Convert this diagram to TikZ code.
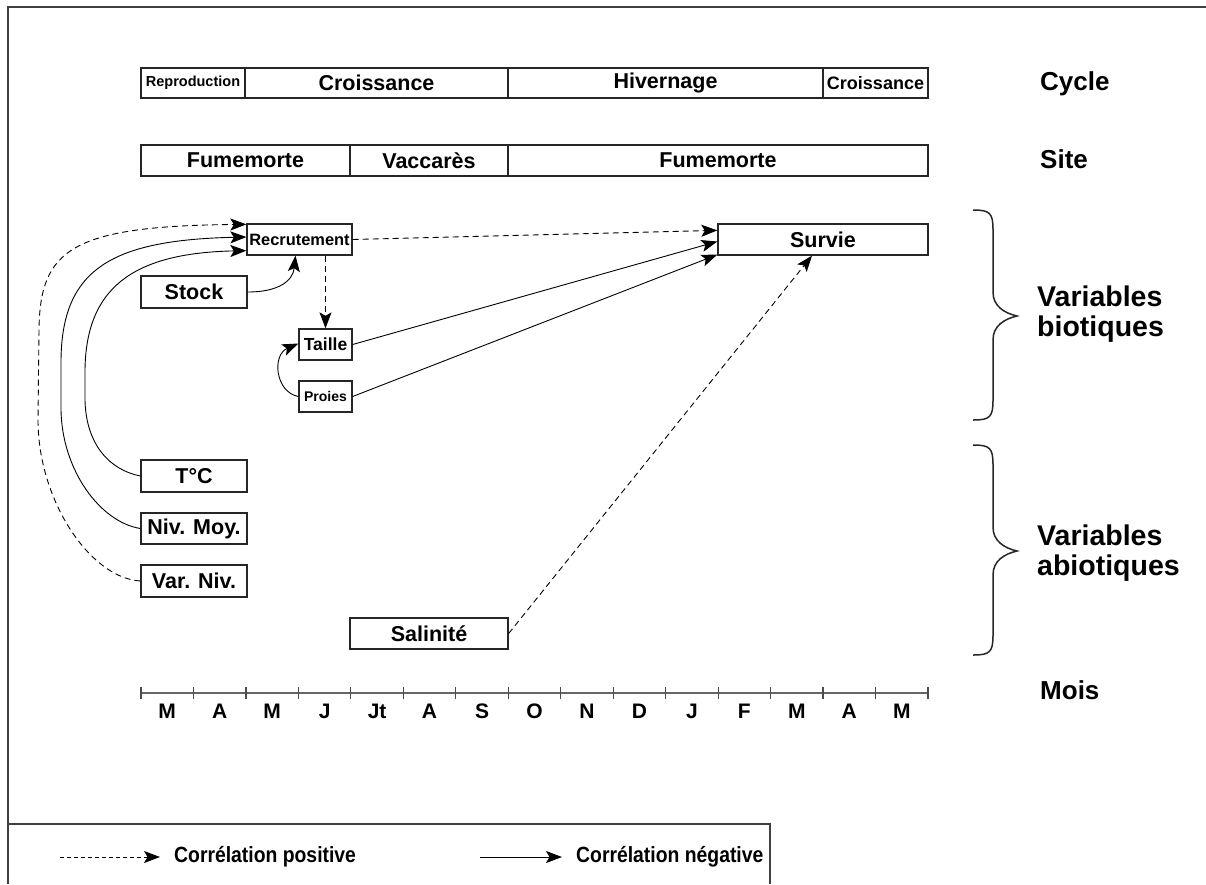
\documentclass[tikz,border=0pt]{standalone}
\usepackage{fontspec}
\setmainfont{Liberation Sans}
\newfontfamily\narrowsans[FakeStretch=0.88]{Liberation Sans}
\usetikzlibrary{arrows.meta,calc}
\begin{document}
\begin{tikzpicture}[x=1pt,y=-1pt,
  box/.style={draw=black!85,line width=1.3pt,fill=white,inner sep=0pt,
    font=\bfseries\fontsize{21.5}{24}\selectfont},
  conn/.style={line width=0.9pt,-{Stealth[length=16pt,width=12pt,inset=3.5pt]}},
  poscorr/.style={conn,dash pattern=on 6pt off 4pt},
  negcorr/.style={conn},
  lab/.style={font=\bfseries\fontsize{26}{30}\selectfont,anchor=west,inner sep=0pt},
  vlab/.style={font=\bfseries\fontsize{28.5}{32}\selectfont,anchor=west,inner sep=0pt,align=left},
  month/.style={font=\bfseries\fontsize{21}{24}\selectfont,inner sep=0pt},
  legtxt/.style={font=\narrowsans\bfseries\fontsize{22}{24}\selectfont,anchor=west,inner sep=0pt},
  frame/.style={draw=black!75,line width=2pt},
  brace/.style={draw=black!85,line width=1.5pt},
  axis/.style={draw=black!60,line width=2pt}
]
\useasboundingbox (0,0) rectangle (1206,884);
% frame
\draw[frame] (8,884) -- (8,7) -- (1206,7);
\draw[frame] (8,824) -- (770,824) -- (770,884);

% Cycle bar
\node[box,minimum width=104pt,minimum height=30pt,font=\bfseries\fontsize{14.5}{16}\selectfont] (c1) at (193,83) {Reproduction};
\node[box,minimum width=263pt,minimum height=30pt] (c2) at (376.5,83) {Croissance};
\node[box,minimum width=315pt,minimum height=30pt] (c3) at (665.5,83) {Hivernage};
\node[box,minimum width=105pt,minimum height=30pt,font=\bfseries\fontsize{18}{20}\selectfont] (c4) at (875.5,83) {Croissance};
\node[lab] (lcycle) at (1040,84) {Cycle};

% Site bar
\node[box,minimum width=209pt,minimum height=31pt] (s1) at (245.5,160.5) {Fumemorte};
\node[box,minimum width=158pt,minimum height=31pt] (s2) at (429,160.5) {Vaccarès};
\node[box,minimum width=420pt,minimum height=31pt] (s3) at (718,160.5) {Fumemorte};
\node[lab] (lsite) at (1040,159) {Site};

% variable nodes
\node[box,minimum width=105pt,minimum height=31pt,font=\bfseries\fontsize{16.4}{18}\selectfont] (recr) at (299.5,239.5) {Recrutement};
\node[box,minimum width=210pt,minimum height=31pt] (survie) at (823,239.5) {Survie};
\node[box,minimum width=106pt,minimum height=32pt] (stock) at (194,292) {Stock};
\node[box,minimum width=53pt,minimum height=31pt,font=\bfseries\fontsize{17.5}{20}\selectfont] (taille) at (325.5,344.5) {Taille};
\node[box,minimum width=53pt,minimum height=31pt,font=\bfseries\fontsize{14}{16}\selectfont] (proies) at (325.5,396.5) {Proies};
\node[box,minimum width=106pt,minimum height=32pt] (tc) at (194,476) {T°C};
\node[box,minimum width=106pt,minimum height=31pt] (nivmoy) at (194,528.5) {Niv. Moy.};
\node[box,minimum width=106pt,minimum height=32pt] (varniv) at (194,581) {Var. Niv.};
\node[box,minimum width=158pt,minimum height=31pt] (salin) at (429,633.5) {Salinité};

% connectors
\draw[poscorr] (varniv.west) .. controls (90,578) and (38,500) .. (38,420) -- (39,330)
  .. controls (40,250) and (70,226) .. ($(recr.north west)+(0,1)$);
\draw[negcorr] (nivmoy.west) .. controls (100,522) and (62,470) .. (61,410) -- (61,360)
  .. controls (62,270) and (110,240) .. ($(recr.west)+(0,-2.5)$);
\draw[negcorr] (tc.west) .. controls (110,470) and (86,445) .. (85,400) -- (85,370)
  .. controls (86,290) and (130,253) .. ($(recr.south west)+(0,-5)$);
\draw[negcorr] (stock.east) .. controls (280,292) and (293,280) .. ($(recr.south)+(-4,0)$);
\draw[poscorr] ($(recr.south)+(26,0)$) -- ($(taille.north)+(0,0)$);
\draw[negcorr] (proies.west) .. controls (275,392) and (272,355) .. ($(taille.west)+(0,-1)$);
\draw[poscorr] (recr.east) -- ($(survie.north west)+(0,7)$);
\draw[negcorr] (taille.east) -- ($(survie.west)+(0,2)$);
\draw[negcorr] (proies.east) -- ($(survie.south west)+(0,-1)$);
\draw[poscorr] (salin.east) -- ($(survie.south)+(-11,0)$);

% braces
\draw[brace] (973,210) .. controls (990,210) and (993,213) .. (993,230) -- (993,292)
  .. controls (993,306) and (1004,313) .. (1017,316)
  .. controls (1004,319) and (993,326) .. (993,340) -- (993,400)
  .. controls (993,417) and (990,420) .. (973,420);
\draw[brace] (973,445) .. controls (990,445) and (993,448) .. (993,465) -- (993,527)
  .. controls (993,541) and (1004,548) .. (1017,551)
  .. controls (1004,554) and (993,561) .. (993,575) -- (993,635)
  .. controls (993,652) and (990,655) .. (973,655);
\node[vlab] (lbio) at (1037,314) {Variables\\[-2pt]biotiques};
\node[vlab] (labio) at (1037,553) {Variables\\[-2pt]abiotiques};

% month axis
\draw[axis] (141,693) -- (928,693);
\foreach \i in {0,...,15} {
  \draw[draw=black!70,line width=1.2pt] (141+52.467*\i,687) -- (141+52.467*\i,699);
}
\foreach \m [count=\i from 0] in {M,A,M,J,Jt,A,S,O,N,D,J,F,M,A,M} {
  \node[month] (m\i) at (141+52.467*\i+26.23,711) {\m};
}
\node[lab] (lmois) at (1040,690) {Mois};

% legend
\coordinate (lp1) at (60,857);
\coordinate (lp2) at (160,857);
\coordinate (ln1) at (480,857);
\coordinate (ln2) at (562,857);
\draw[conn,dash pattern=on 4pt off 3pt] (lp1) -- (lp2);
\node[legtxt] (tpos) at (174,857) {Corrélation positive};
\draw[conn] (ln1) -- (ln2);
\node[legtxt] (tneg) at (576,857) {Corrélation négative};
\end{tikzpicture}
\end{document}
